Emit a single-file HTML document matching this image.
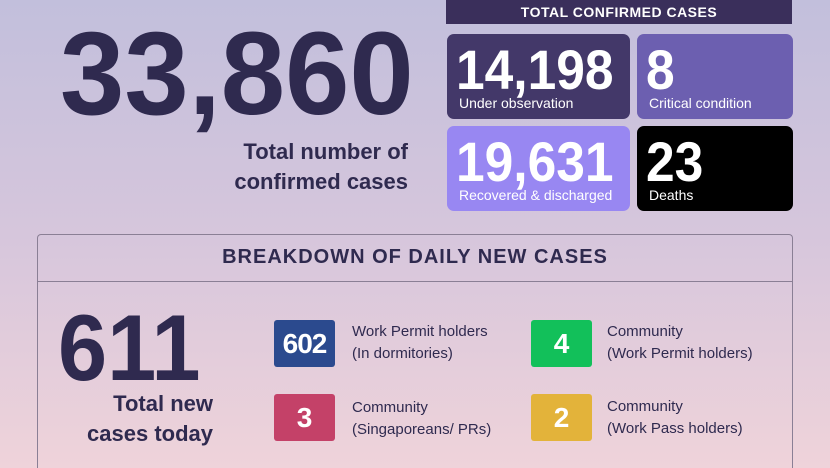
<!DOCTYPE html>
<html style="width:830px;height:468px;overflow:hidden"><head><style>
*{margin:0;padding:0;box-sizing:border-box}
body{width:830px;height:468px;overflow:hidden;position:relative;font-family:"Liberation Sans",sans-serif;background:linear-gradient(180deg,#c2bfdc 0%,#d6c6dc 50%,#efd3da 100%);color:#2f2a4f}
.a{position:absolute;white-space:nowrap}
.big{font-weight:bold}
.box{position:absolute;border-radius:7px;color:#fff;overflow:hidden}
.box .n{position:absolute;left:9px;top:3px;font-size:56px;font-weight:bold;transform:scaleX(0.92);transform-origin:left}
.box .l{position:absolute;left:12px;top:61px;font-size:14px}
.badge{position:absolute;width:61px;height:47px;border-radius:3px;color:#fff;font-weight:bold;font-size:28px;text-align:center;line-height:47px}
.lab{position:absolute;font-size:15px;line-height:22px}
</style></head><body>
<div class="a big" style="left:60px;top:14px;font-size:118px;line-height:120px;transform:scaleX(0.98);transform-origin:left">33,860</div>
<div class="a" style="right:422px;top:137px;font-size:22px;font-weight:bold;line-height:30px;text-align:right">Total number of<br>confirmed cases</div>
<div class="a" style="left:446px;top:0;width:346px;height:24px;background:#3a2f5b;color:#fff;font-weight:bold;font-size:14px;text-align:center;line-height:24px;letter-spacing:0.5px">TOTAL CONFIRMED CASES</div>
<div class="box" style="left:447px;top:34px;width:183px;height:85px;background:#433869"><div class="n">14,198</div><div class="l">Under observation</div></div>
<div class="box" style="left:637px;top:34px;width:156px;height:85px;background:#6c5fb0"><div class="n">8</div><div class="l">Critical condition</div></div>
<div class="box" style="left:447px;top:126px;width:183px;height:85px;background:#9887f2"><div class="n">19,631</div><div class="l">Recovered &amp; discharged</div></div>
<div class="box" style="left:637px;top:126px;width:156px;height:85px;background:#000"><div class="n">23</div><div class="l">Deaths</div></div>
<div class="a" style="left:37px;top:234px;width:756px;height:234px;border:1px solid #8a7f95;border-bottom:none;border-radius:4px 4px 0 0"></div>
<div class="a" style="left:37px;top:281px;width:756px;height:1px;background:#8a7f95"></div>
<div class="a" style="left:37px;top:246px;width:756px;text-align:center;font-weight:bold;font-size:20px;letter-spacing:1px">BREAKDOWN OF DAILY NEW CASES</div>
<div class="a big" style="left:58px;top:298px;font-size:94px;line-height:100px;transform:scaleX(0.94);transform-origin:left">611</div>
<div class="a" style="right:617px;top:389px;font-size:22px;font-weight:bold;line-height:30px;text-align:right">Total new<br>cases today</div>
<div class="badge" style="left:274px;top:320px;background:#2b4a8e;letter-spacing:-1px">602</div>
<div class="badge" style="left:531px;top:320px;background:#12c05a">4</div>
<div class="badge" style="left:274px;top:394px;background:#c44168">3</div>
<div class="badge" style="left:531px;top:394px;background:#e3b33a">2</div>
<div class="lab" style="left:352px;top:321px">Work Permit holders<br>(In dormitories)</div>
<div class="lab" style="left:607px;top:321px">Community<br>(Work Permit holders)</div>
<div class="lab" style="left:352px;top:397px">Community<br>(Singaporeans/ PRs)</div>
<div class="lab" style="left:607px;top:396px">Community<br>(Work Pass holders)</div>
</body></html>
